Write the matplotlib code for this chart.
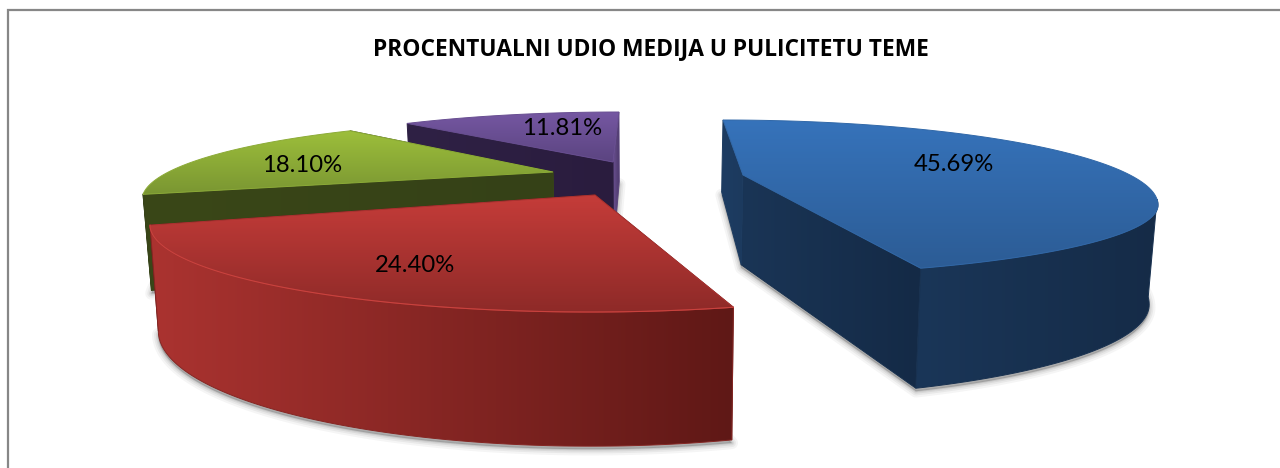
import numpy as np
import matplotlib
matplotlib.use('Agg')
import matplotlib.pyplot as plt
from matplotlib.colors import LinearSegmentedColormap, to_rgb
from matplotlib.patches import Polygon

TITLE = 'PROCENTUALNI UDIO MEDIJA U PULICITETU TEME'
shares = [45.69, 24.40, 18.10, 11.81]
label_xy = [(954, 164.5), (415, 265.5), (302, 165.5), (562, 128.5)]

# Excel's exploded 3D pie is not a true projection: every slice has its own rim ellipse
# (cx, cy, rx, ry back, ry front), apex, angle shift and angular stretch
rims = [(723, 205, 435, 85, 71), (590, 225, 440, 87, 87), (560, 200, 418, 80, 80), (619, 200, 430, 88, 88)]
apexes = [(743, 175), (595, 195), (553, 172), (613, 162)]
shift = [0, -3.5, 21.7, 13.0]
stretch = [0.93, 1.24, 0.857, 0.694]

top_colors = [('#3673bb', '#2c5c95'), ('#c53c39', '#8e2a28'), ('#9dbf3b', '#7a9632'), ('#7557a2', '#5b4480')]
rim_colors = [('#1a3658', '#152b47'), ('#ab3330', '#5f1816'), ('#38441a', '#38441a'), ('#2d1f42', '#2d1f42')]
cut_start_colors = [('#1d3c62', '#1c3a5e'), ('#5f1816', '#5f1816'), ('#3a4718', '#354117'), ('#2f2145', '#2a1c3e')]
cut_end_colors = [('#1a3556', '#142a46'), ('#5f1816', '#5f1816'), ('#38441a', '#38441a'), ('#6a5090', '#4a3768')]

fig = plt.figure(figsize=(12.8, 4.68), dpi=100, facecolor='white')
ax = fig.add_axes([0, 0, 1, 1])
z = [2]


def extrude(pts):
    # side walls get taller towards the viewer and lean to the vanishing point
    pts = np.asarray(pts, dtype=float)
    depth = 72 + (pts[:, 1] - 120) * 0.324
    return np.column_stack([pts[:, 0] + (640 - pts[:, 0]) * 0.017, pts[:, 1] + depth])


def grad_fill(poly, stops, horizontal=False):
    poly = np.asarray(poly)
    x0, y0 = poly.min(axis=0)
    x1, y1 = poly.max(axis=0)
    cmap = LinearSegmentedColormap.from_list('g', stops)
    ramp = np.linspace(0, 1, 256)
    img = ramp[None, :] if horizontal else ramp[:, None]
    z[0] += 1
    im = ax.imshow(img, extent=(x0, x1, y1, y0), cmap=cmap, vmin=0, vmax=1, aspect='auto',
                   interpolation='bilinear', zorder=z[0])
    clip = Polygon(poly, closed=True, transform=ax.transData, fc='none', ec='none')
    im.set_clip_path(clip)
    # thin stroke to hide the jagged clip edge
    mean = np.mean([to_rgb(c) for c in stops], axis=0)
    ax.add_patch(Polygon(poly, closed=True, fc='none', ec=mean, lw=0.7, zorder=z[0] + 0.5))


def rim_points(i, a0, a1, n=120):
    cx, cy, rx, ry_back, ry_front = rims[i]
    t = np.radians(np.linspace(a0, a1, n))
    ry = np.where(np.cos(t) > 0, ry_back, ry_front)
    return np.column_stack([cx + rx * np.sin(t), cy - ry * np.cos(t)])


def quad(a, b):
    return np.array([a, b, extrude([b])[0], extrude([a])[0]])


starts = np.concatenate([[0], np.cumsum(shares)[:-1]]) * 3.6

# shadows go under everything
for i in range(len(shares)):
    a0 = starts[i] + shift[i]
    a1 = a0 + shares[i] * 3.6 * stretch[i]
    rim = rim_points(i, a0, a1)
    floor = extrude(np.vstack([rim, [apexes[i]]])) + [0, 3]
    for lw, alpha in zip((9, 6, 3.5, 1.5), (0.06, 0.08, 0.10, 0.14)):
        ax.add_patch(Polygon(floor, closed=True, fc='#555555', ec='#555555', lw=lw, alpha=alpha,
                             joinstyle='round', zorder=1))

# far slices first
for i in (3, 2, 1, 0):
    a0 = starts[i] + shift[i]
    a1 = a0 + shares[i] * 3.6 * stretch[i]
    rim = rim_points(i, a0, a1)
    apex = apexes[i]

    grad_fill(quad(rim[-1], apex), cut_end_colors[i], horizontal=True)
    grad_fill(quad(rim[0], apex), cut_start_colors[i], horizontal=True)

    # only the part of the rim that faces the viewer
    t = np.radians(np.linspace(a0, a1, 120))
    front = rim[np.cos(t) <= 0.08]
    if len(front) > 1:
        grad_fill(np.vstack([front, extrude(front)[::-1]]), rim_colors[i], horizontal=True)

    grad_fill(np.vstack([rim, [apex]]), top_colors[i])
    if i == 1:
        z[0] += 1
        ax.plot(front[:, 0], front[:, 1], color='#c9423e', lw=0.8, zorder=z[0])

for v, (x, y) in zip(shares, label_xy):
    ax.text(x, y, f'{v:.2f}%', ha='center', va='center', fontsize=17.2, family='Lato', color='black', zorder=100)

ax.text(650.5, 49, TITLE, ha='center', va='center', fontsize=16.4, family='Open Sans', fontweight='bold',
        color='black', zorder=100)

# chart frame, only the top and left edges fall inside the crop
ax.plot([7.5, 7.5, 1280], [468, 9.5, 9.5], color='#878787', lw=1.6, solid_joinstyle='miter', zorder=100)

ax.set_xlim(0, 1280)
ax.set_ylim(468, 0)
ax.axis('off')
fig.savefig('out.png', dpi=100)
